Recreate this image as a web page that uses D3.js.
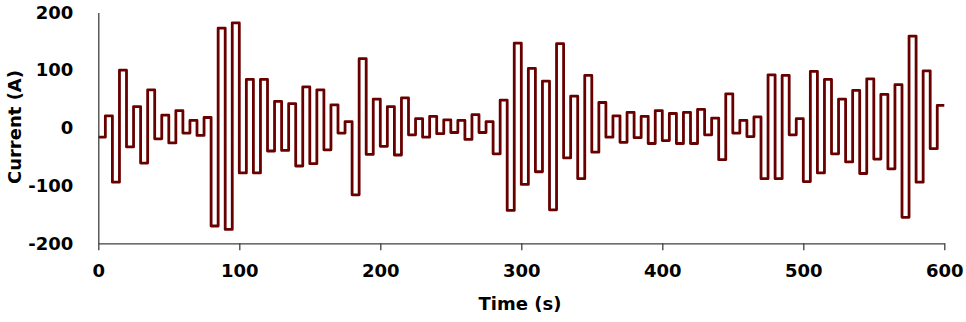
<!DOCTYPE html>
<html>
<head>
<meta charset="utf-8">
<script src="https://cdn.jsdelivr.net/npm/d3@7"></script>
<style>
  body { margin: 0; background: #fff; }
  #chart text { font-family: "DejaVu Sans", sans-serif; font-weight: bold; fill: #000; }
</style>
</head>
<body>
<div id="chart"></div>
<script>
// step length of the current profile (s)
var stepSeconds = 5;

// current level per 5 s step (A)
var current = [
  -16, 21,   -94, 100,  -33, 37,   -61, 66,   -19, 22,
  -26, 30,   -9, 13,    -13, 18,   -170, 173, -176, 182,
  -78, 84,   -78, 84,   -40, 46,   -39, 42,   -66, 71,
  -62, 66,   -38, 40,   -9, 11,    -116, 120, -46, 50,
  -32, 37,   -47, 52,   -12, 16,   -16, 20,   -10, 14,
  -8, 13,    -20, 23,   -8, 11,    -45, 48,   -143, 147,
  -98, 103,  -76, 81,   -142, 146, -52, 55,   -88, 91,
  -42, 44,   -16, 21,   -25, 27,   -17, 20,   -27, 30,
  -22, 25,   -27, 27,   -27, 32,   -12, 17,   -55, 59,
  -9, 13,    -15, 19,   -88, 92,   -88, 91,   -12, 16,
  -93, 98,   -78, 84,   -45, 50,   -59, 65,   -79, 85,
  -54, 58,   -71, 75,   -155, 159, -94, 99,   -36, 39
];

var xTicks = [0, 100, 200, 300, 400, 500, 600];
var yTicks = [-200, -100, 0, 100, 200];

var w = 966, h = 322;

var x = d3.scaleLinear().domain([0, 600]).range([98.3, 944.3]);
var y = d3.scaleLinear().domain([-200, 200]).range([243.3, 12.5]);

var svg = d3.select('#chart')
  .append('svg')
  .attr('width', w)
  .attr('height', h);

// points: one per step start, plus the end of the last step
var pts = current.map(function (v, i) { return [i * stepSeconds, v]; });
pts.push([current.length * stepSeconds, current[current.length - 1]]);

var line = d3.line()
  .x(function (d) { return x(d[0]); })
  .y(function (d) { return y(d[1]); })
  .curve(d3.curveStepAfter);

svg.append('path')
  .datum(pts)
  .attr('d', line)
  .attr('fill', 'none')
  .attr('stroke', '#680000')
  .attr('stroke-width', 2.8)
  .attr('stroke-linejoin', 'round');

// plain hyphen for negatives, like the original
var fmt = function (d) { return String(d); };

// x axis
var xAxis = svg.append('g')
  .attr('transform', 'translate(0,' + y(-200) + ')')
  .call(d3.axisBottom(x).tickValues(xTicks).tickFormat(fmt).tickSize(7).tickSizeOuter(0).tickPadding(14));

xAxis.select('.domain').attr('stroke', '#404040').attr('stroke-width', 1.3);
xAxis.selectAll('.tick line').attr('stroke', '#404040').attr('stroke-width', 1.3);
xAxis.selectAll('text').style('font-size', '18px');

// y axis, no tick marks
var yAxis = svg.append('g')
  .attr('transform', 'translate(' + x(0) + ',0)')
  .call(d3.axisLeft(y).tickValues(yTicks).tickFormat(fmt).tickSize(0).tickPadding(25));

yAxis.select('.domain').attr('stroke', '#404040').attr('stroke-width', 1.3);
yAxis.selectAll('text').style('font-size', '18px');

// titles
svg.append('text')
  .attr('x', 520)
  .attr('y', 310)
  .attr('text-anchor', 'middle')
  .style('font-size', '18px')
  .text('Time (s)');

svg.append('text')
  .attr('transform', 'translate(21,127) rotate(-90)')
  .attr('text-anchor', 'middle')
  .style('font-size', '18px')
  .text('Current (A)');
</script>
</body>
</html>
